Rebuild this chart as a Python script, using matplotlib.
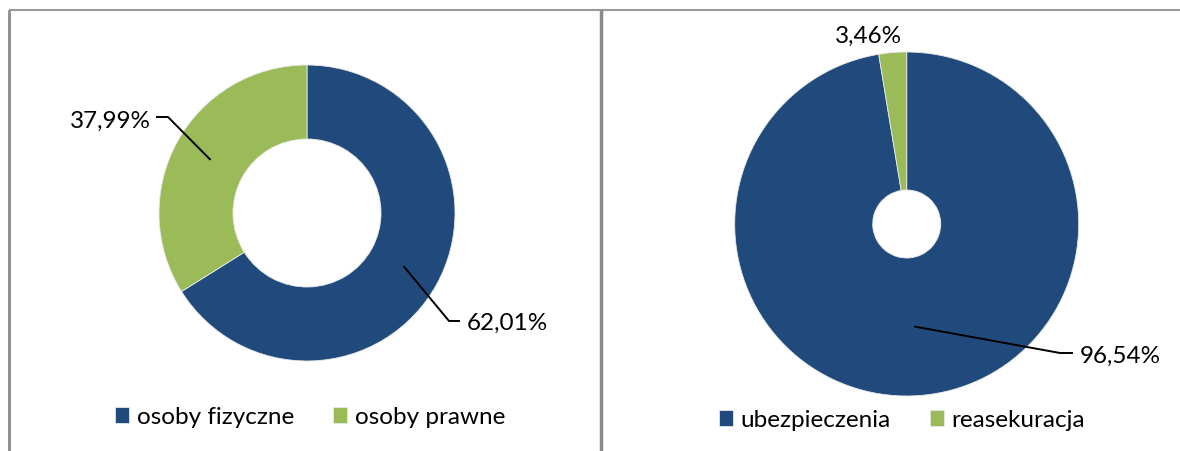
import numpy as np
import matplotlib.pyplot as plt

plt.rcParams['font.family'] = ['Lato', 'DejaVu Sans']

# dane
klienci = ['osoby fizyczne', 'osoby prawne']
klienci_etykiety = [62.01, 37.99]     # wartosci z etykiet
klienci_wycinki = [66.1, 33.9]        # wielkosc wycinkow
dzialalnosc = ['ubezpieczenia', 'reasekuracja']
dzialalnosc_etykiety = [96.54, 3.46]
dzialalnosc_wycinki = [97.4, 2.6]

kolory = ['#214A7C', '#9BBB59']
W, H = 1180, 452


def fmt(v):
    return f'{v:.2f}'.replace('.', ',') + '%'


def ring_point(center, r_out, width, start, frac_from, frac_to):
    # punkt w srodku pierscienia, w polowie wycinka (zgodnie z ruchem wskazowek)
    ang = np.deg2rad(start - 360 * (frac_from + frac_to) / 2)
    r = r_out - width / 2
    return center[0] + r * np.cos(ang), center[1] + r * np.sin(ang)


fig = plt.figure(figsize=(W / 100, H / 100), dpi=100)
ax = fig.add_axes([0, 0, 1, 1])

# lewy wykres
c1 = (307, H - 214)
w1, _ = ax.pie(klienci_wycinki, colors=kolory, startangle=90, counterclock=False,
               center=c1, radius=148,
               wedgeprops=dict(width=74, edgecolor='#e8e8e8', linewidth=0.6))

# prawy wykres
c2 = (906.7, H - 225)
w2, _ = ax.pie(dzialalnosc_wycinki, colors=kolory, startangle=90, counterclock=False,
               center=c2, radius=172,
               wedgeprops=dict(width=138, edgecolor='#e8e8e8', linewidth=0.6))

ax.set_xlim(0, W)
ax.set_ylim(0, H)
ax.set_aspect('auto')
ax.axis('off')

fs = 17.5
f = np.cumsum([0] + klienci_wycinki) / sum(klienci_wycinki)

# 62,01%
p = ring_point(c1, 148, 74, 90, f[0], f[1])
ax.plot([p[0], 449, 459], [p[1], H - 322, H - 322], color='black', lw=1.4)
ax.text(467, H - 323, fmt(klienci_etykiety[0]), fontsize=fs, va='center', ha='left')

# 37,99%
p = ring_point(c1, 148, 74, 90, f[1], f[2])
ax.plot([p[0], 168, 157], [p[1], H - 118, H - 118], color='black', lw=1.4)
ax.text(151, H - 121, fmt(klienci_etykiety[1]), fontsize=fs, va='center', ha='right')

g = np.cumsum([0] + dzialalnosc_wycinki) / sum(dzialalnosc_wycinki)

# 96,54%
p = ring_point(c2, 172, 138, 90, g[0], g[1])
ax.plot([p[0], 1060, 1072], [p[1], H - 354, H - 354], color='black', lw=1.4)
ax.text(1080, H - 356, fmt(dzialalnosc_etykiety[0]), fontsize=fs, va='center', ha='left')

# 3,46%
ax.text(869, H - 36, fmt(dzialalnosc_etykiety[1]), fontsize=fs, va='center', ha='center')

# ramki
ax.plot([8.5, W], [H - 10.5, H - 10.5], color='#9a9a9a', lw=1.5, solid_capstyle='butt')
ax.plot([8.5, 8.5], [0, H - 10.5], color='#8a8a8a', lw=2, solid_capstyle='butt')
ax.plot([601, 601], [0, H - 10.5], color='#8a8a8a', lw=2.5, solid_capstyle='butt')

# legendy
leg_kw = dict(loc='center', ncol=2, frameon=False, fontsize=fs,
              handlelength=0.6, handleheight=0.6, handletextpad=0.3,
              columnspacing=1.6, bbox_transform=ax.transData)
leg1 = ax.legend(w1, klienci, bbox_to_anchor=(310, H - 418), **leg_kw)
ax.add_artist(leg1)
ax.legend(w2, dzialalnosc, bbox_to_anchor=(902, H - 421), **leg_kw)

fig.savefig('out.png', dpi=100)
